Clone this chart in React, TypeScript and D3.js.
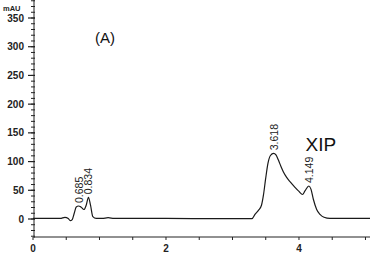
import React from "react";
import * as d3 from "d3";

const times = [0, 0.41, 0.48, 0.53, 0.56, 0.59, 0.62, 0.65, 0.685, 0.72, 0.767, 0.8, 0.834, 0.865, 0.9, 0.95, 1.04, 1.13, 1.22, 2.0, 2.8, 3.293, 3.338, 3.39, 3.436, 3.466, 3.496, 3.534, 3.571, 3.618, 3.654, 3.689, 3.729, 3.764, 3.812, 3.865, 3.94, 4.0, 4.053, 4.09, 4.149, 4.18, 4.215, 4.266, 4.316, 4.376, 4.466, 5.068];
const absorbance = [1, 1, 3, 1, -3, -1, 10, 21, 22.6, 21, 16.5, 24, 37.8, 24, 4, 1, 1, 2.3, 1, 1, 0.5, 0.5, 8, 15, 24, 42, 68, 97.5, 110.6, 114.4, 111.5, 103, 91.4, 82.4, 73, 65, 55.2, 48, 42.7, 48.8, 57.5, 52, 34.8, 16.5, 8, 3, 1, 1];

const peakTimes = [0.685, 0.834, 3.618, 4.149];
const peakHeights = [22.6, 37.8, 114.4, 57.5];
const peakLabels = ["0.685", "0.834", "3.618", "4.149"];

const yMajorTicks = [0, 50, 100, 150, 200, 250, 300, 350];
const xMajorTicks = [0, 2, 4];

export default function App() {
  const W = 370, H = 253;
  const x = d3.scaleLinear().domain([0, 5.068]).range([33, 370]);
  const y = d3.scaleLinear().domain([0, 350]).range([219, 18]);
  const yMin = y.invert(237);
  const yMax = y.invert(0);
  const yMinor = d3.range(Math.ceil(yMin / 10) * 10, yMax, 10);
  const xMinor = d3.range(0, 5.06, 0.5);
  const data = times.map((t, i) => [t, absorbance[i]] as [number, number]);
  const line = d3.line<[number, number]>().x(d => x(d[0])).y(d => y(d[1])).curve(d3.curveMonotoneX);
  const axisColor = "#222";
  const font = "Arial, 'Liberation Sans', sans-serif";

  return (
    <svg width={W} height={H} style={{ position: "absolute", left: 0, top: 0, background: "#fff" }}>
      <rect width={W} height={H} fill="#fff" />
      {/* y axis */}
      <line x1={34} x2={34} y1={0} y2={238} stroke={axisColor} strokeWidth={1} />
      {yMinor.map(v => (
        <line key={"ym" + v} x1={31} x2={35} y1={y(v)} y2={y(v)} stroke={axisColor} strokeWidth={1} />
      ))}
      {yMajorTicks.map(v => (
        <g key={"y" + v}>
          <line x1={28} x2={35} y1={y(v)} y2={y(v)} stroke={axisColor} strokeWidth={1.2} />
          <text x={24} y={y(v)} dy="0.35em" textAnchor="end" fontFamily={font} fontWeight="bold" fontSize={10} fill="#222">{v}</text>
        </g>
      ))}
      <text x={3} y={10.5} fontFamily={font} fontWeight="bold" fontSize={7.5} fill="#222">mAU</text>
      {/* x axis */}
      <line x1={34} x2={370} y1={237} y2={237} stroke={axisColor} strokeWidth={1} />
      {xMinor.map(v => (
        <line key={"xm" + v} x1={x(v)} x2={x(v)} y1={237} y2={240} stroke={axisColor} strokeWidth={1} />
      ))}
      {xMajorTicks.map(v => (
        <text key={"x" + v} x={x(v)} y={252} textAnchor="middle" fontFamily={font} fontWeight="bold" fontSize={10} fill="#222">{v}</text>
      ))}
      {/* trace */}
      <path d={line(data) || ""} fill="none" stroke="#1a1a1a" strokeWidth={1.2} />
      {peakLabels.map((lab, i) => {
        const px = x(peakTimes[i]) + 4;
        const py = y(peakHeights[i]) - 3;
        return (
          <text key={lab} transform={`translate(${px},${py}) rotate(-90)`} fontFamily={font} fontSize={10.5} fill="#222">{lab}</text>
        );
      })}
      <text x={95} y={43} fontFamily={font} fontSize={15} fill="#111">(A)</text>
      <text x={305.5} y={150.7} fontFamily={font} fontSize={19} fill="#111">XIP</text>
    </svg>
  );
}
